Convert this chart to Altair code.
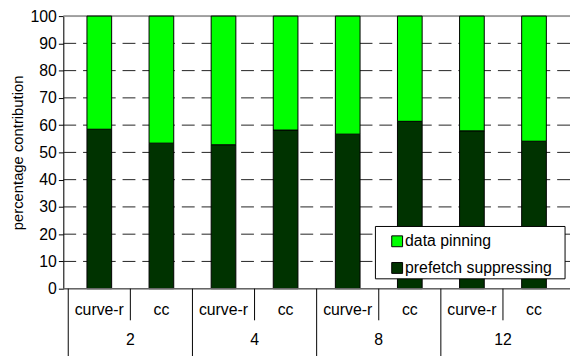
import altair as alt
import pandas as pd

groups = ["2", "2", "4", "4", "8", "8", "12", "12"]
methods = ["curve-r", "cc", "curve-r", "cc", "curve-r", "cc", "curve-r", "cc"]
prefetch = [58.5, 53.4, 52.8, 58.2, 56.7, 61.4, 57.9, 54.1]
pinning = [round(100 - v, 1) for v in prefetch]
series = ["data pinning", "prefetch suppressing"]
colors = ["#00ff00", "#003300"]
group_names = ["2", "4", "8", "12"]
y_ticks = list(range(0, 101, 10))

rows = []
for i, (g, m) in enumerate(zip(groups, methods)):
    rows.append({"pos": i + 0.5, "series": "prefetch suppressing", "value": prefetch[i], "ord": 0})
    rows.append({"pos": i + 0.5, "series": "data pinning", "value": pinning[i], "ord": 1})
bars_df = pd.DataFrame(rows)

lab_df = pd.DataFrame({"pos": [i + 0.5 for i in range(len(methods))], "label": methods})
grp_df = pd.DataFrame({"pos": [2 * i + 1 for i in range(len(group_names))], "label": group_names})
short_div = pd.DataFrame({"pos": [2 * i + 1 for i in range(len(group_names))]})
long_div = pd.DataFrame({"pos": [2 * i for i in range(len(group_names))]})
grid_df = pd.DataFrame({"v": y_ticks[1:-1]})
leg_df = pd.DataFrame({"series": series, "row": list(range(len(series)))})

FONT = "Liberation Sans"
W, H = 513, 276
xs = alt.Scale(domain=[0, 8], nice=False, zero=False)
ys = alt.Scale(domain=[0, 100], nice=False)
cs = alt.Scale(domain=series, range=colors)

yaxis = alt.Axis(values=y_ticks, tickCount=11, title="percentage contribution",
                 grid=False, domainColor="#000", tickColor="#000", tickSize=5,
                 labelFontSize=16, labelFont=FONT, labelColor="#000", labelOverlap=False,
                 titleFont=FONT, titleFontSize=15, titleFontWeight="normal",
                 titleColor="#000", titlePadding=5, labelPadding=2)

grid = alt.Chart(grid_df).mark_rule(color="#222", strokeDash=[13, 7], strokeWidth=1).encode(
    y=alt.Y("v:Q", scale=ys, axis=yaxis)
)

top = alt.Chart(pd.DataFrame({"v": [100]})).mark_rule(color="#888", strokeWidth=1.5).encode(
    y=alt.Y("v:Q", scale=ys, axis=yaxis)
)

bars = alt.Chart(bars_df).mark_bar(size=25, stroke="#000", strokeWidth=1).encode(
    x=alt.X("pos:Q", scale=xs, axis=None),
    y=alt.Y("value:Q", stack="zero", scale=ys, axis=yaxis),
    color=alt.Color("series:N", scale=cs, legend=None),
    order=alt.Order("ord:Q"),
)

base_line = alt.Chart(pd.DataFrame({"v": [0]})).mark_rule(color="#666", strokeWidth=1.5).encode(
    y=alt.Y("v:Q", scale=ys, axis=yaxis)
)

sdiv = alt.Chart(short_div).mark_rule(color="#000", strokeWidth=1).encode(
    x=alt.X("pos:Q", scale=xs, axis=None), y=alt.value(H), y2=alt.value(H + 32)
)
ldiv = alt.Chart(long_div).mark_rule(color="#000", strokeWidth=1).encode(
    x=alt.X("pos:Q", scale=xs, axis=None), y=alt.value(H), y2=alt.value(H + 70)
)
labs = alt.Chart(lab_df).mark_text(font=FONT, fontSize=16, color="#000", baseline="middle").encode(
    x=alt.X("pos:Q", scale=xs, axis=None), y=alt.value(H + 22), text="label:N"
)
grps = alt.Chart(grp_df).mark_text(font=FONT, fontSize=16, color="#000", baseline="middle").encode(
    x=alt.X("pos:Q", scale=xs, axis=None), y=alt.value(H + 52), text="label:N"
)

# legend box (manual)
leg_y = alt.Scale(domain=[0, 1], range=[228, 255])
leg_box = alt.Chart(pd.DataFrame({"a": [0]})).mark_rect(fill="#fff", stroke="#000", strokeWidth=1).encode(
    x=alt.value(316), x2=alt.value(508), y=alt.value(213), y2=alt.value(266)
)
leg_sym = alt.Chart(leg_df).mark_square(size=121, stroke="#000", strokeWidth=1, opacity=1).encode(
    x=alt.value(338),
    y=alt.Y("row:Q", scale=leg_y, axis=None),
    fill=alt.Fill("series:N", scale=cs, legend=None),
)
leg_txt = alt.Chart(leg_df).mark_text(font=FONT, fontSize=16, color="#000", align="left",
                                       baseline="middle").encode(
    x=alt.value(346),
    y=alt.Y("row:Q", scale=leg_y, axis=None),
    text="series:N",
)

main = alt.layer(grid, top, bars, base_line, sdiv, ldiv, labs, grps)
legend = alt.layer(leg_box, leg_sym, leg_txt)

chart = alt.layer(main, legend).resolve_scale(y="independent").properties(
    width=W, height=H,
    autosize=alt.AutoSizeParams(type="none"),
    padding={"left": 56, "top": 6, "right": 0, "bottom": 70},
).configure_view(stroke=None).configure(background="#fff")

chart.save("out.html", embed_options={"renderer": "svg", "actions": False})
